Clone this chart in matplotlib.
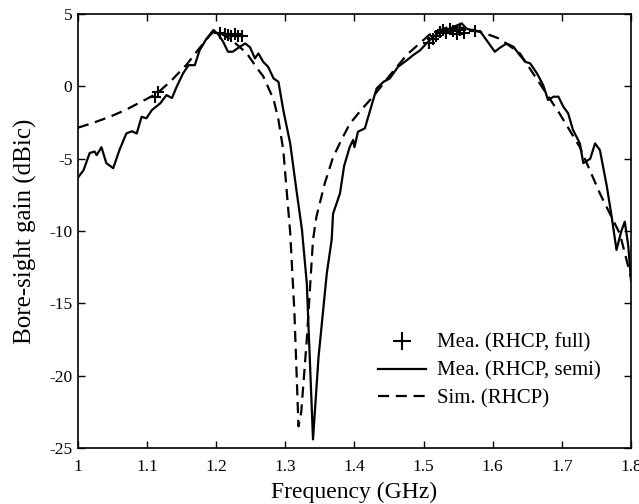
import matplotlib
matplotlib.use("Agg")
import matplotlib.pyplot as plt
from matplotlib.ticker import FixedLocator

plt.rcParams['font.family'] = ['Liberation Serif', 'DejaVu Serif']
plt.rcParams['axes.unicode_minus'] = False

# Simulated RHCP
sim_f = [1.000, 1.020, 1.046, 1.070, 1.090, 1.114, 1.135, 1.157, 1.175, 1.191, 1.198,
         1.210, 1.225, 1.244, 1.260, 1.268, 1.283, 1.290, 1.297, 1.307, 1.313, 1.319,
         1.323, 1.331, 1.340, 1.345, 1.357, 1.369, 1.380, 1.393, 1.410, 1.427, 1.450,
         1.476, 1.509, 1.538, 1.555, 1.572, 1.590, 1.610, 1.639, 1.668, 1.697, 1.726,
         1.755, 1.784, 1.800]
sim_g = [-2.85, -2.55, -2.1, -1.6, -1.1, -0.5, 0.4, 1.5, 2.6, 3.55, 3.85,
         3.6, 3.1, 2.3, 1.2, 0.7, -0.9, -2.3, -4.4, -10.1, -15.5, -23.5,
         -22.5, -17.5, -10.6, -9.0, -6.7, -4.9, -3.8, -2.6, -1.6, -0.7, 0.7,
         2.2, 3.6, 4.15, 4.05, 3.9, 3.65, 3.3, 2.3, 0.2, -1.9, -4.2,
         -7.4, -10.2, -13.2]

# Measured RHCP, semi
semi_f = [1.000, 1.008, 1.017, 1.024, 1.027, 1.034, 1.041, 1.051, 1.060, 1.070, 1.078,
          1.085, 1.092, 1.099, 1.107, 1.119, 1.128, 1.136, 1.143, 1.152, 1.160, 1.169,
          1.176, 1.186, 1.196, 1.203, 1.210, 1.217, 1.224, 1.234, 1.242, 1.249, 1.256,
          1.261, 1.268, 1.275, 1.283, 1.290, 1.297, 1.307, 1.316, 1.324, 1.331, 1.340,
          1.348, 1.360, 1.367, 1.369, 1.379, 1.385, 1.393, 1.398, 1.400, 1.405, 1.415,
          1.427, 1.432, 1.442, 1.451, 1.463, 1.476, 1.485, 1.495, 1.504, 1.514, 1.524,
          1.538, 1.555, 1.562, 1.572, 1.582, 1.591, 1.603, 1.610, 1.620, 1.630, 1.639,
          1.647, 1.654, 1.664, 1.673, 1.680, 1.688, 1.695, 1.702, 1.709, 1.716, 1.726,
          1.731, 1.741, 1.748, 1.755, 1.765, 1.772, 1.779, 1.786, 1.791, 1.796, 1.800]
semi_g = [-6.3, -5.8, -4.6, -4.5, -4.75, -4.2, -5.3, -5.65, -4.4, -3.25, -3.1,
          -3.25, -2.1, -2.2, -1.63, -1.17, -0.6, -0.8, 0.0, 0.9, 1.47, 1.47,
          2.5, 3.3, 3.9, 3.6, 3.09, 2.4, 2.4, 2.74, 2.97, 2.7, 1.94,
          2.28, 1.7, 1.36, 0.55, 0.32, -1.63, -3.94, -7.16, -9.9, -13.6, -24.4,
          -18.7, -12.9, -10.6, -8.8, -7.4, -5.5, -4.2, -3.7, -4.2, -3.13, -2.9,
          -0.94, -0.14, 0.32, 0.55, 1.36, 1.82, 2.17, 2.5, 2.97, 3.43, 3.78,
          4.0, 4.36, 4.0, 3.85, 3.8, 3.2, 2.4, 2.66, 2.97, 2.74, 2.17,
          1.7, 1.6, 0.9, 0.09, -0.94, -0.71, -0.71, -1.4, -1.85, -3.0, -3.94,
          -5.3, -5.0, -3.94, -4.4, -6.9, -9.0, -11.3, -10.0, -9.35, -11.0, -13.4]

# Measured RHCP, full
full_f = [1.111, 1.116, 1.206, 1.212, 1.217, 1.222, 1.227, 1.232, 1.238,
          1.508, 1.513, 1.518, 1.523, 1.528, 1.533, 1.538, 1.543, 1.548, 1.553, 1.558, 1.575]
full_g = [-0.7, -0.37, 3.7, 3.6, 3.55, 3.5, 3.6, 3.5, 3.5,
          3.0, 3.3, 3.5, 3.75, 3.9, 3.7, 3.95, 3.8, 3.6, 3.9, 3.7, 3.8]

x_ticks = [1, 1.1, 1.2, 1.3, 1.4, 1.5, 1.6, 1.7, 1.8]
x_labels = ['1', '1.1', '1.2', '1.3', '1.4', '1.5', '1.6', '1.7', '1.8']
y_ticks = [-25, -20, -15, -10, -5, 0, 5]

fig = plt.figure(figsize=(6.39, 5.04), dpi=100)
ax = fig.add_axes([0.122, 0.111, 0.8655, 0.861])

ax.plot(full_f, full_g, linestyle='none', marker='+', color='black',
        markersize=9, markeredgewidth=1.5, label='Mea. (RHCP, full)')
ax.plot(semi_f, semi_g, '-', color='black', linewidth=1.6, label='Mea. (RHCP, semi)')
ax.plot(sim_f, sim_g, '--', color='black', linewidth=1.6, dashes=(5, 3), label='Sim. (RHCP)')

ax.set_xlim(1, 1.8)
ax.set_ylim(-25, 5)
ax.xaxis.set_major_locator(FixedLocator(x_ticks))
ax.set_xticklabels(x_labels)
ax.yaxis.set_major_locator(FixedLocator(y_ticks))
ax.tick_params(direction='in', top=True, right=True, labelsize=12.5, length=5, width=1)
ax.tick_params(axis='x', pad=8)
ax.tick_params(axis='y', pad=4)
for s in ax.spines.values():
    s.set_linewidth(1.2)

ax.set_xlabel('Frequency (GHz)', fontsize=17, labelpad=5)
ax.set_ylabel('Bore-sight gain (dBic)', fontsize=18, labelpad=9)

leg = ax.legend(loc='lower right', bbox_to_anchor=(0.972, 0.057), frameon=False,
                fontsize=15, handlelength=2.3, handletextpad=0.55, labelspacing=0.4,
                markerscale=1.4, borderpad=0.2)

fig.savefig('out.png', dpi=100)
